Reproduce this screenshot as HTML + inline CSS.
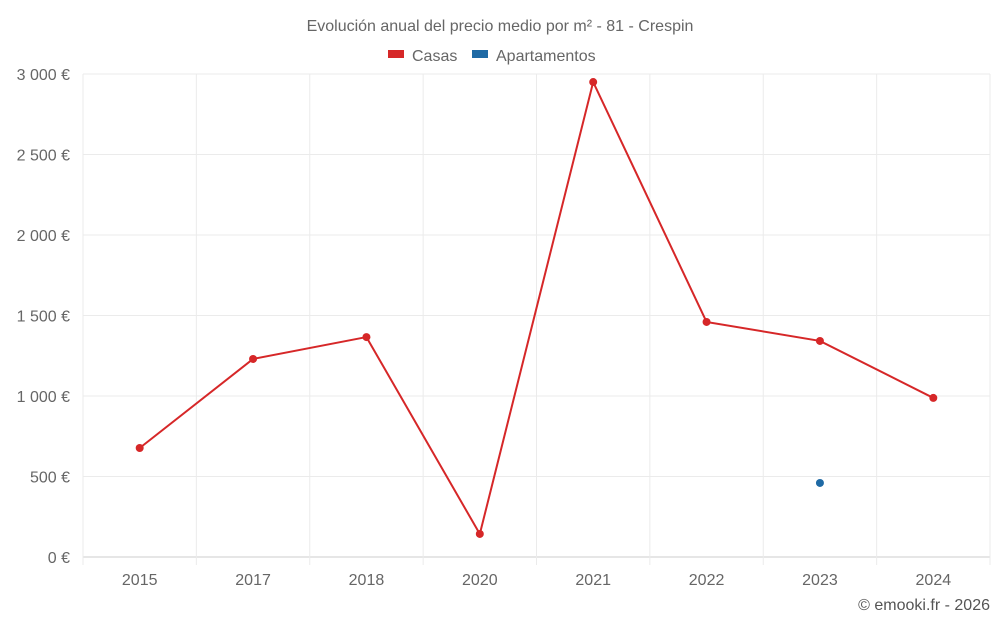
<!DOCTYPE html>
<html><head><meta charset="utf-8">
<style>
body{margin:0;background:#fff;width:1000px;height:625px;overflow:hidden;font-family:"Liberation Sans",sans-serif;}
svg text{font-family:"Liberation Sans",sans-serif;}
</style></head>
<body>
<svg id="chart" width="1000" height="625" viewBox="0 0 1000 625" xmlns="http://www.w3.org/2000/svg">
<text x="500" y="31" text-anchor="middle" font-size="16" fill="#666">Evolución anual del precio medio por m² - 81 - Crespin</text>
<g>
<g><rect x="388" y="50" width="16" height="8" fill="#d62728"/><text x="412" y="61" font-size="16" fill="#666">Casas</text></g>
<g><rect x="472" y="50" width="16" height="8" fill="#1f6aa5"/><text x="496" y="61" font-size="16" fill="#666">Apartamentos</text></g>
</g>
<g id="grid"></g>
<g id="axes"></g>
<g id="series"></g>
<text x="990" y="610" text-anchor="end" font-size="16" fill="#555">© emooki.fr - 2026</text>
</svg>
<script>
const categories=["2015","2017","2018","2020","2021","2022","2023","2024"];
const casas=[677,1230,1366,143,2950,1460,1342,988];
const apartamentos=[null,null,null,null,null,null,460,null];
const yTicks=[0,500,1000,1500,2000,2500,3000];
const yTickLabels=["0 €","500 €","1 000 €","1 500 €","2 000 €","2 500 €","3 000 €"];

const NS="http://www.w3.org/2000/svg";
const L=83,R=990,T=74,B=557,YMAX=3000;
const band=(R-L)/categories.length;
const x=i=>L+band*(i+0.5);
const y=v=>B-(v/YMAX)*(B-T);
function mk(tag,attrs,parent){const e=document.createElementNS(NS,tag);for(const k in attrs)e.setAttribute(k,attrs[k]);parent.appendChild(e);return e;}
const grid=document.getElementById('grid'),axes=document.getElementById('axes'),series=document.getElementById('series');
yTicks.forEach((t,i)=>{
  const g=mk('line',{x1:L,x2:R,y1:y(t),y2:y(t),stroke:i===0?'#ccc':'#ebebeb','stroke-width':1},grid);
  
  
  const tx=mk('text',{x:70,y:y(t)+6,'text-anchor':'end','font-size':16,fill:'#666'},axes);
  tx.textContent=yTickLabels[i];
  
  
});
for(let i=0;i<=categories.length;i++){
  const gx=L+band*i;
  const g=mk('line',{x1:gx,x2:gx,y1:T,y2:B+8,stroke:'#ebebeb','stroke-width':1},grid);
  
  
}
categories.forEach((c,i)=>{
  const tx=mk('text',{x:x(i),y:585,'text-anchor':'middle','font-size':16,fill:'#666'},axes);
  tx.textContent=c;
  
  
});
const pts=casas.map((v,i)=>v==null?null:x(i)+','+y(v)).filter(Boolean).join(' ');
const line=mk('polyline',{points:pts,fill:'none',stroke:'#d62728','stroke-width':2},series);


casas.forEach((v,i)=>{if(v==null)return;
  const c=mk('circle',{cx:x(i),cy:y(v),r:4,fill:'#d62728'},series);
  
  
});
apartamentos.forEach((v,i)=>{if(v==null)return;
  const c=mk('circle',{cx:x(i),cy:y(v),r:4,fill:'#1f6aa5'},series);
  
  
});
</script>
</body></html>
